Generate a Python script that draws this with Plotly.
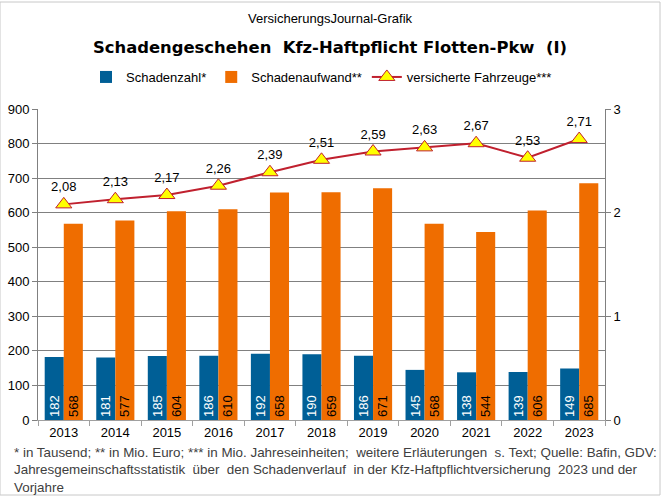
import plotly.graph_objects as go

years = ["2013", "2014", "2015", "2016", "2017", "2018", "2019", "2020", "2021", "2022", "2023"]
schadenzahl = [182, 181, 185, 186, 192, 190, 186, 145, 138, 139, 149]
schadenaufwand = [568, 577, 604, 610, 658, 659, 671, 568, 544, 606, 685]
fahrzeuge = [2.08, 2.13, 2.17, 2.26, 2.39, 2.51, 2.59, 2.63, 2.67, 2.53, 2.71]

FONT = "Liberation Sans, Arial, sans-serif"

fig = go.Figure()
fig.add_trace(go.Bar(
    x=years, y=schadenzahl, name="Schadenzahl*",
    marker=dict(color="#005F96", line=dict(width=0)),
    text=[str(v) for v in schadenzahl], textposition="inside",
    insidetextanchor="start", textangle=-90,
    textfont=dict(color="white", size=13, family=FONT),
))
fig.add_trace(go.Bar(
    x=years, y=schadenaufwand, name="Schadenaufwand**",
    marker=dict(color="#EF6D00", line=dict(width=0)),
    text=[str(v) for v in schadenaufwand], textposition="inside",
    insidetextanchor="start", textangle=-90,
    textfont=dict(color="black", size=13, family=FONT),
))
fig.add_trace(go.Scatter(
    x=years, y=fahrzeuge, name="versicherte Fahrzeuge***", yaxis="y2",
    mode="lines+markers+text", cliponaxis=False,
    line=dict(color="#C0202E", width=2),
    marker=dict(symbol="triangle-up", size=14, color="#FFFF00",
                line=dict(color="#C0202E", width=1)),
    text=[f"{v:.2f}".replace(".", ",") for v in fahrzeuge],
    textposition="top center",
    textfont=dict(color="black", size=13, family=FONT),
))

fig.update_layout(
    width=661, height=496,
    margin=dict(l=38, r=56, t=109, b=76, autoexpand=False),
    paper_bgcolor="white", plot_bgcolor="white",
    font=dict(family=FONT, size=13, color="black"),
    barmode="group", bargap=0.26, bargroupgap=0,
    uniformtext=dict(minsize=12, mode="show"),
    showlegend=True,
    legend=dict(orientation="h", x=0.5, xanchor="center", y=(420 - 77) / 311, yanchor="middle",
                font=dict(size=13, family=FONT), itemwidth=30, traceorder="normal"),
    xaxis=dict(range=[-0.5, 10.5], showline=True, linecolor="#A0A0A0", ticks="outside",
               tickson="boundaries", tickcolor="#A0A0A0", ticklen=5, showgrid=False,
               automargin=False, tickfont=dict(size=13, family=FONT)),
    yaxis=dict(range=[0, 900], dtick=100, showline=True, linecolor="#808080",
               ticks="outside", tickcolor="#808080", ticklen=5, automargin=False,
               showgrid=True, gridcolor="#808080", gridwidth=1,
               tickfont=dict(size=13, family=FONT), zeroline=False),
    yaxis2=dict(range=[0, 3], dtick=1, overlaying="y", side="right",
                showline=True, linecolor="#808080", ticks="outside", automargin=False,
                tickcolor="#808080", ticklen=5, showgrid=False,
                tickfont=dict(size=13, family=FONT), zeroline=False),
    shapes=[dict(type="rect", xref="paper", yref="paper",
                 x0=-38/567, x1=(661-39)/567, y0=-75/311, y1=1 + 107/311,
                 line=dict(color="#C8C8C8", width=1), fillcolor="rgba(0,0,0,0)")],
    annotations=[
        dict(text="VersicherungsJournal-Grafik", xref="paper", yref="paper",
             x=(330 - 38) / 567, y=(420 - 18) / 311, xanchor="center", yanchor="middle",
             showarrow=False, font=dict(size=13, family=FONT)),
        dict(text="<b>Schadengeschehen  Kfz-Haftpflicht Flotten-Pkw  (I)</b>", xref="paper", yref="paper",
             x=(330 - 38) / 567, y=(420 - 48) / 311, xanchor="center", yanchor="middle",
             showarrow=False, font=dict(size=16.4, family="DejaVu Sans, sans-serif")),
        dict(text="* in Tausend; ** in Mio. Euro; *** in Mio. Jahreseinheiten;  weitere Erläuterungen  s. Text; Quelle: Bafin, GDV:<br>"
                  "Jahresgemeinschaftsstatistik  über  den Schadenverlauf  in der Kfz-Haftpflichtversicherung  2023 und der<br>Vorjahre",
             xref="paper", yref="paper", x=-26/567, y=(420 - 443) / 311, xanchor="left", yanchor="top",
             align="left", showarrow=False, font=dict(size=13.4, family=FONT, color="#404040")),
    ],
)

fig.write_html("out.html")
